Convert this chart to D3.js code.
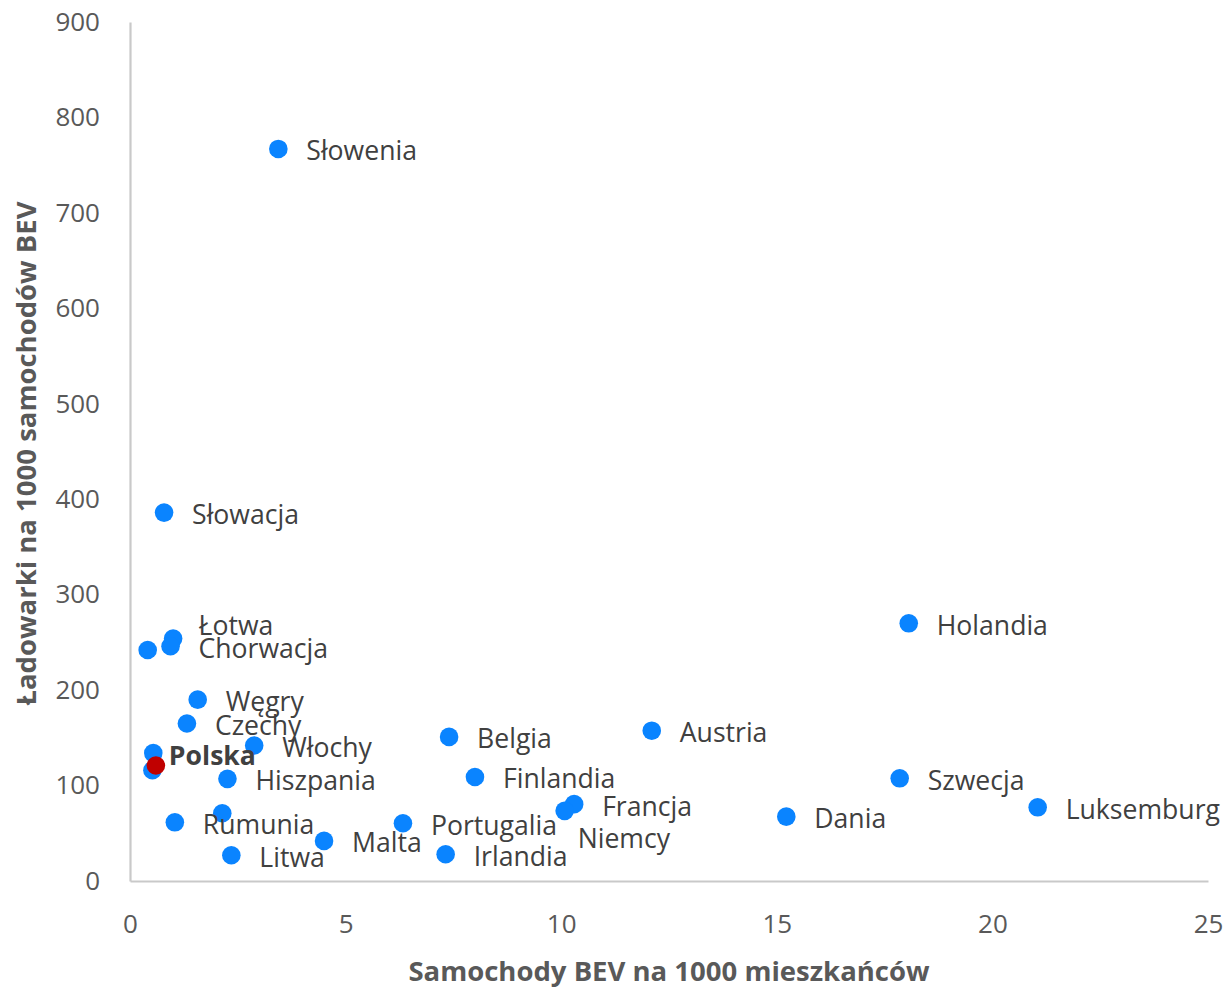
<!DOCTYPE html>
<html><head><meta charset="utf-8">
<script src="https://cdn.jsdelivr.net/npm/d3@7"></script>
<style>
html,body{margin:0;padding:0;background:#fff;}
svg text{font-family:"Open Sans","Noto Sans",sans-serif;}
</style></head>
<body>
<svg id="chart" width="1227" height="989"></svg>
<script>
// ---- data ----
const countries = ["Słowenia","Słowacja","Łotwa","Chorwacja","","Węgry","Czechy","Włochy","","","Hiszpania","Rumunia","","Litwa","Malta","Portugalia","Irlandia","Belgia","Finlandia","Francja","Niemcy","Austria","Dania","Szwecja","Holandia","Luksemburg","Polska"];
const bevPer1000 = [3.44,0.79,1.00,0.94,0.41,1.57,1.32,2.88,0.54,0.52,2.26,1.04,2.14,2.35,4.50,6.33,7.32,7.40,8.00,10.30,10.08,12.10,15.22,17.85,18.06,21.05,0.60];
const chargersPer1000 = [767,386,254,246,242,190,165,142,134,116,107,61.5,71,27,42,60.5,28,151,109,80.5,73.5,157.5,67.4,107.6,270,77.2,121];
const xTicks = [0,5,10,15,20,25];
const yTicks = [0,100,200,300,400,500,600,700,800,900];
const xTitle = "Samochody BEV na 1000 mieszkańców";
const yTitle = "Ładowarki na 1000 samochodów BEV";
const highlight = "Polska";

// ---- layout (not data) ----
const labelNudge = {"Polska":[-15,-12],"Łotwa":[-2.5,-15],"Niemcy":[-15,26]};
const M = {left:130, right:1208, top:22, bottom:881};

const svg = d3.select("#chart");
const x = d3.scaleLinear().domain([0,25]).range([M.left,M.right]);
const y = d3.scaleLinear().domain([0,900]).range([M.bottom,M.top]);

const xAxis = svg.append("g").attr("transform",`translate(0,${M.bottom})`)
  .call(d3.axisBottom(x).tickValues(xTicks).tickSize(0).tickSizeOuter(0).tickPadding(34).tickFormat(d3.format("d")));
const yAxis = svg.append("g").attr("transform",`translate(${M.left},0)`)
  .call(d3.axisLeft(y).tickValues(yTicks).tickSize(0).tickSizeOuter(0).tickPadding(30).tickFormat(d3.format("d")));
[xAxis,yAxis].forEach(g=>{
  g.select(".domain").attr("stroke","#c9c9c9").attr("stroke-width",2.2);
  g.selectAll("text").attr("fill","#595959").attr("font-size",26).attr("font-family","'Open Sans','Noto Sans',sans-serif");
});

svg.append("text").attr("x",(M.left+M.right)/2).attr("y",981)
  .attr("text-anchor","middle").attr("font-size",27.5).attr("font-weight","bold").attr("fill","#595959").text(xTitle);
svg.append("text").attr("transform",`translate(36,${(M.top+M.bottom)/2+2}) rotate(-90)`)
  .attr("text-anchor","middle").attr("font-size",27.5).attr("font-weight","bold").attr("fill","#595959").text(yTitle);

const pts = countries.map((c,i)=>({name:c,x:bevPer1000[i],y:chargersPer1000[i]}));
const g = svg.append("g");
g.selectAll("circle").data(pts).join("circle")
  .attr("cx",d=>x(d.x)).attr("cy",d=>y(d.y)).attr("r",9.3)
  .attr("fill",d=>d.name===highlight?"#c00000":"#0a84ff");

g.selectAll("text.lbl").data(pts.filter(d=>d.name!=="")).join("text")
  .attr("class","lbl")
  .attr("x",d=>x(d.x)+28+((labelNudge[d.name]||[0,0])[0]))
  .attr("y",d=>y(d.y)+11.5+((labelNudge[d.name]||[0,0])[1]))
  .attr("font-size",26.6)
  .attr("font-weight",d=>d.name===highlight?"bold":"normal")
  .attr("fill","#404040")
  .text(d=>d.name);
</script>
</body></html>
